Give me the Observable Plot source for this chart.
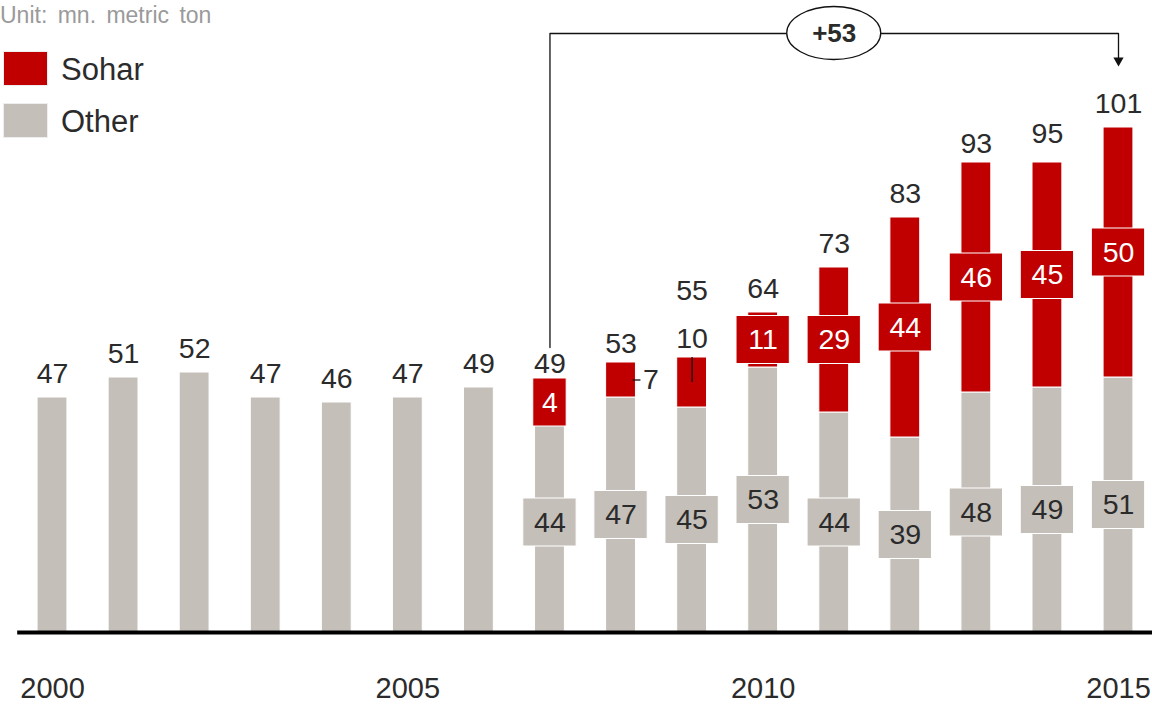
<!DOCTYPE html>
<html><head><meta charset="utf-8">
<script src="https://cdn.jsdelivr.net/npm/d3@7"></script>
<script src="https://cdn.jsdelivr.net/npm/@observablehq/plot@0.6"></script>
<style>
body{margin:0;background:#fff;}
#wrap{position:relative;width:1152px;height:706px;overflow:hidden;font-family:"Liberation Sans",Arial,sans-serif;background:#fff;}
#chart{position:absolute;left:0;top:0;}
.unit{position:absolute;left:0px;top:2px;font-size:23px;line-height:26px;color:#9a9a9a;white-space:nowrap;word-spacing:4px;}
.sw{position:absolute;left:3px;width:45px;height:35px;box-sizing:border-box;border:1px solid #eee;}
.lt{position:absolute;left:61px;font-size:31px;line-height:35px;color:#2b2b2b;}
</style></head><body>
<div id="wrap">
  <div id="chart"></div>
  <div class="unit">Unit: mn. metric ton</div>
  <div id="legend"></div>
</div>
<script>
// ---- data ----
const years  = [2000,2001,2002,2003,2004,2005,2006,2007,2008,2009,2010,2011,2012,2013,2014,2015];
const other  = [47,51,52,47,46,47,49,44,47,45,53,44,39,48,49,51];
const sohar  = [0,0,0,0,0,0,0,4,7,10,11,29,44,46,45,50];
const totals = [47,51,52,47,46,47,49,49,53,55,64,73,83,93,95,101];
const seriesNames  = ["Sohar","Other"];
const seriesColors = ["#c00000","#c4bfb9"];
const tickYears = [2000,2005,2010,2015];
const growthFrom = 2007, growthTo = 2015, growthLabel = "+53";
const calloutRight = [2008];   // Sohar value written to the right of the bar
const calloutAbove = [2009];   // Sohar value written above the bar

// ---- layout constants ----
const W = 1152, H = 706;
const barHalf = 0.21, boxHalf1 = 0.235, boxHalf2 = 0.375, boxHalfH = 4.8;
const bracketY = 119.8, arrowCenterY = 114.4;
const RED = seriesColors[0], GRAY = seriesColors[1], TXT = "#2b2b2b";
const FONT = "'Liberation Sans', Arial, sans-serif";
const NUM = 28.5;

// legend
const leg = document.getElementById("legend");
seriesNames.forEach((n,i)=>{
  const top = 51 + i*52;
  const s = document.createElement("div"); s.className="sw"; s.style.top=top+"px"; s.style.background=seriesColors[i]; leg.appendChild(s);
  const t = document.createElement("div"); t.className="lt"; t.style.top=(top+1)+"px"; t.textContent=n; leg.appendChild(t);
});

const otherRows = years.map((y,i)=>({year:y, y1:0, y2:other[i], v:other[i], mid:other[i]/2, has:sohar[i]>0}));
const soharRows = years.map((y,i)=>({year:y, y1:other[i], y2:other[i]+sohar[i], v:sohar[i], mid:other[i]+sohar[i]/2})).filter(d=>d.v>0);
const totalRows = years.map((y,i)=>({year:y, total:totals[i]}));
const otherBoxed = otherRows.filter(d=>d.has);
const soharBoxed = soharRows.filter(d=>!calloutRight.includes(d.year) && !calloutAbove.includes(d.year));
const rightRows = soharRows.filter(d=>calloutRight.includes(d.year));
const aboveRows = soharRows.filter(d=>calloutAbove.includes(d.year));
const boxHalf = v => String(v).length===1 ? boxHalf1 : boxHalf2;
const fromIdx = years.indexOf(growthFrom);
const bracket = [
  {x:growthFrom, y:totals[fromIdx]+8},
  {x:growthFrom, y:bracketY},
  {x:growthTo, y:bracketY},
  {x:growthTo, y:arrowCenterY}
];

const chart = Plot.plot({
  width: W, height: H,
  marginLeft: 52, marginRight: 34, marginTop: 0, marginBottom: 74,
  x: {type:"linear", domain:[years[0], years[years.length-1]]},
  y: {domain:[0, 126.4], axis:null},
  style: {fontFamily: FONT, background:"transparent", overflow:"visible"},
  marks: [
    Plot.rect(otherRows, {x1:d=>d.year-barHalf, x2:d=>d.year+barHalf, y1:"y1", y2:"y2", fill:GRAY, stroke:"white", strokeWidth:1}),
    Plot.rect(soharRows, {x1:d=>d.year-barHalf, x2:d=>d.year+barHalf, y1:"y1", y2:"y2", fill:RED, stroke:"white", strokeWidth:1}),
    Plot.rect(otherBoxed, {x1:d=>d.year-boxHalf(d.v), x2:d=>d.year+boxHalf(d.v), y1:d=>d.mid-boxHalfH, y2:d=>d.mid+boxHalfH, fill:GRAY, stroke:"white", strokeWidth:1}),
    Plot.rect(soharBoxed, {x1:d=>d.year-boxHalf(d.v), x2:d=>d.year+boxHalf(d.v), y1:d=>d.mid-boxHalfH, y2:d=>d.mid+boxHalfH, fill:RED, stroke:"white", strokeWidth:1}),
    Plot.text(otherBoxed, {x:"year", y:"mid", text:d=>String(d.v), fill:TXT, fontSize:NUM}),
    Plot.text(soharBoxed, {x:"year", y:"mid", text:d=>String(d.v), fill:"white", fontSize:NUM}),
    Plot.text(totalRows.filter(d=>!calloutAbove.includes(d.year)), {x:"year", y:"total", dy:-24, text:d=>String(d.total), fill:TXT, fontSize:NUM}),
    Plot.text(totalRows.filter(d=>calloutAbove.includes(d.year)), {x:"year", y:"total", dy:-67, text:d=>String(d.total), fill:TXT, fontSize:NUM}),
    Plot.ruleY(rightRows, {y:"mid", x1:d=>d.year+0.17, x2:d=>d.year+0.28, stroke:"#111", strokeWidth:1.3}),
    Plot.text(rightRows, {x:d=>d.year+0.31, y:"mid", textAnchor:"start", text:d=>String(d.v), fill:TXT, fontSize:NUM}),
    Plot.ruleX(aboveRows, {x:"year", y1:"mid", y2:"y2", stroke:"#111", strokeWidth:1.3}),
    Plot.text(aboveRows, {x:"year", y:"y2", dy:-19, text:d=>String(d.v), fill:TXT, fontSize:NUM}),
    Plot.ruleY([0], {x1:1999.51, x2:2015.6, stroke:"black", strokeWidth:4}),
    Plot.axisX(tickYears, {tickSize:0, tickPadding:45, fontSize:29, tickFormat:d=>String(d), fill:TXT}),
    Plot.line(bracket, {x:"x", y:"y", stroke:"#111", strokeWidth:1.3}),
    (index, scales) => {
      return d3.create("svg:ellipse")
        .attr("cx", scales.x((growthFrom+growthTo)/2))
        .attr("cy", scales.y(bracketY))
        .attr("rx", 47).attr("ry", 26.5)
        .attr("fill", "white").attr("stroke", "#111").attr("stroke-width", 1.3)
        .node();
    },
    Plot.text([growthLabel], {x:()=>(growthFrom+growthTo)/2, y:()=>bracketY, text:d=>d, fontWeight:"bold", fontSize:26, fill:TXT}),
    Plot.dot([growthTo], {x:d=>d, y:()=>arrowCenterY, symbol:"triangle", r:3.8, fill:"#111", rotate:180})
  ]
});
document.getElementById("chart").appendChild(chart);
</script>
</body></html>
